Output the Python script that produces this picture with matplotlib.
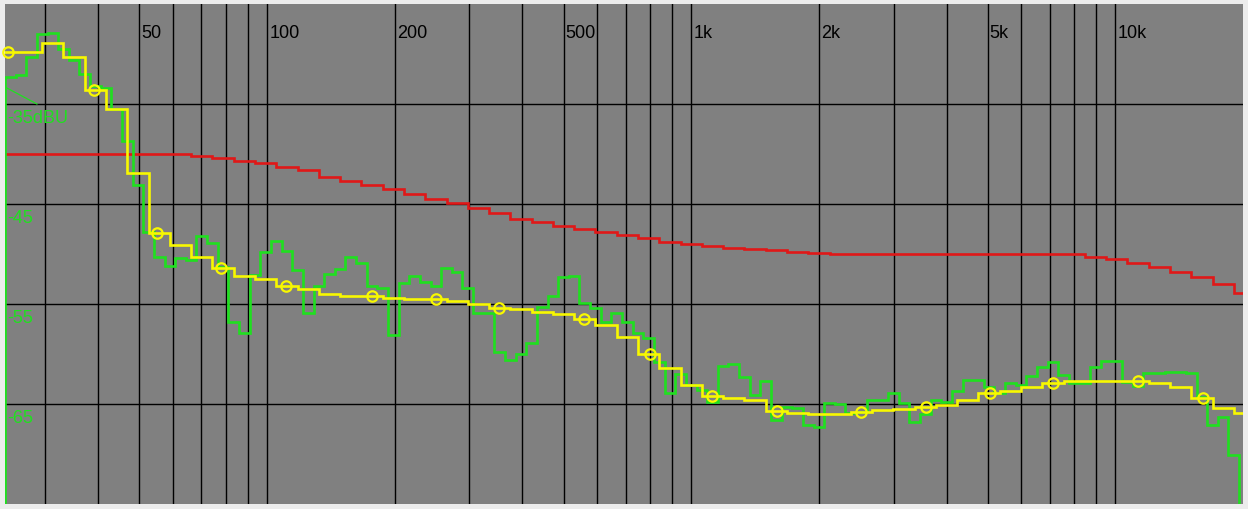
import numpy as np
import matplotlib.pyplot as plt

plt.rcParams['font.family'] = ['Liberation Sans', 'DejaVu Sans']

# --- band indices (re 1 kHz) ---
sixth_bands = np.arange(-32, 27)      # 1/6 octave: yellow + red
twelfth_bands = np.arange(-65, 53)    # 1/12 octave: green

# --- levels in dBU ---
yellow_db = [
    -29.8, -29.8, -28.9, -30.3, -33.6, -35.5, -41.9, -47.9, -49.1, -50.3,
    -51.4, -52.2, -52.5, -53.2, -53.5, -54.0, -54.2, -54.2, -54.4, -54.5,
    -54.5, -54.7, -55.0, -55.4, -55.5, -55.8, -56.0, -56.5, -57.1, -58.3,
    -60.0, -61.4, -63.1, -64.2, -64.4, -64.6, -65.7, -65.9, -66.0, -66.0,
    -65.8, -65.6, -65.5, -65.3, -65.1, -64.6, -63.9, -63.7, -63.3, -62.9,
    -62.7, -62.7, -62.7, -62.7, -62.9, -63.3, -64.4, -65.4, -65.9,
]
red_db = [
    -40.0, -40.0, -40.0, -40.0, -40.0, -40.0, -40.0, -40.0, -40.0, -40.2,
    -40.4, -40.7, -40.9, -41.3, -41.6, -42.3, -42.7, -43.1, -43.5, -44.0,
    -44.5, -44.9, -45.4, -45.9, -46.5, -46.8, -47.2, -47.5, -47.8, -48.1,
    -48.4, -48.8, -49.0, -49.2, -49.4, -49.5, -49.6, -49.8, -49.9, -50.0,
    -50.0, -50.0, -50.0, -50.0, -50.0, -50.0, -50.0, -50.0, -50.0, -50.0,
    -50.0, -50.3, -50.5, -50.9, -51.3, -51.8, -52.3, -53.0, -53.9,
]
green_db = [
    -80.0, -32.3, -32.1, -30.3, -28.0, -27.9, -29.5, -30.6, -32.0, -33.2,
    -33.4, -35.5, -38.7, -43.1, -47.8, -50.3, -51.2, -50.4, -50.6, -48.2,
    -48.9, -51.3, -56.8, -57.9, -52.1, -49.8, -48.7, -49.7, -51.6, -55.9,
    -53.2, -52.0, -51.5, -50.3, -50.9, -53.2, -53.4, -58.1, -52.9, -52.2,
    -52.8, -53.2, -51.4, -51.8, -53.4, -55.9, -55.9, -59.8, -60.6, -60.0,
    -58.9, -55.3, -54.2, -52.3, -52.2, -54.9, -55.4, -56.8, -55.9, -56.8,
    -57.9, -58.4, -60.8, -63.9, -62.0, -63.1, -63.6, -64.8, -61.2, -61.0,
    -62.3, -64.1, -62.7, -66.6, -65.3, -65.4, -67.1, -67.3, -64.9, -65.0,
    -65.9, -65.8, -64.6, -64.6, -63.9, -64.9, -66.8, -66.0, -64.6, -64.8,
    -63.7, -62.6, -62.6, -63.3, -63.9, -62.9, -63.1, -62.2, -61.3, -60.8,
    -62.1, -62.9, -62.9, -61.3, -60.7, -60.7, -62.8, -63.2, -61.9, -61.9,
    -61.8, -61.8, -61.9, -64.3, -67.1, -66.3, -70.1, -80.0,
]
marker_freqs = [24.5, 39, 55, 78, 111, 177, 250, 353, 560, 800,
                1120, 1590, 2520, 3580, 5070, 7140, 11300, 16100]

x_labels = ["50", "100", "200", "500", "1k", "2k", "5k", "10k"]
x_label_freqs = [50, 100, 200, 500, 1000, 2000, 5000, 10000]
grid_freqs = [30, 40, 50, 60, 70, 80, 90, 100, 200, 300, 400, 500, 600,
              700, 800, 900, 1000, 2000, 3000, 4000, 5000, 6000, 7000,
              8000, 9000, 10000]
y_labels = ["-35dBU", "-45", "-55", "-65"]
y_label_vals = [-35, -45, -55, -65]

GREEN = '#1fe01f'
YELLOW = '#f8f800'
RED = '#e01818'


def band_edges(idx, per_oct):
    idx = np.asarray(idx, dtype=float)
    return 1000 * 2 ** (np.append(idx - 0.5, idx[-1] + 0.5) / per_oct)


fig = plt.figure(figsize=(12.48, 5.09), dpi=100, facecolor='#ececec')
ax = fig.add_axes([5 / 1248, 5 / 509, 1238 / 1248, 500 / 509])
ax.set_facecolor('#808080')
ax.set_xscale('log')
ax.set_xlim(24.1, 20000)
ax.set_ylim(-75, -25)
ax.tick_params(which='both', length=0, labelbottom=False, labelleft=False)
for s in ax.spines.values():
    s.set_visible(False)

# grid
for f in grid_freqs:
    ax.axvline(f, color='black', lw=1.0, zorder=1)
for v in y_label_vals:
    ax.axhline(v, color='black', lw=1.0, zorder=1)

# traces
ax.stairs(red_db, band_edges(sixth_bands, 6), color=RED, lw=1.9, zorder=3)
ax.stairs(green_db, band_edges(twelfth_bands, 12), color=GREEN, lw=1.9, zorder=4)
ax.stairs(yellow_db, band_edges(sixth_bands, 6), color=YELLOW, lw=1.9, zorder=5)

# markers sit on the yellow curve
mk_idx = np.round(6 * np.log2(np.array(marker_freqs) / 1000)).astype(int) - sixth_bands[0]
mk_y = np.array(yellow_db)[mk_idx]
ax.plot(marker_freqs, mk_y, ls='none', marker='o', ms=7.5, mfc='none',
        mec=YELLOW, mew=1.6, zorder=6, clip_on=False)

# frequency labels
for f, lab in zip(x_label_freqs, x_labels):
    ax.annotate(lab, xy=(f, 1), xycoords=('data', 'axes fraction'),
                xytext=(1.5, -24.5), textcoords='offset points',
                ha='left', va='baseline', fontsize=13, color='black')

# level labels
for v, lab in zip(y_label_vals, y_labels):
    ax.annotate(lab, xy=(0, v), xycoords=('axes fraction', 'data'),
                xytext=(1.5, -13.8), textcoords='offset points',
                ha='left', va='baseline', fontsize=13, color=GREEN)

# little reference wedge above the -35dBU label
ax.plot([0, 0, 0.0258], [0.8, 0.834, 0.8], transform=ax.transAxes,
        color=GREEN, lw=0.9, zorder=2)

fig.savefig('out.png', dpi=100, facecolor=fig.get_facecolor())
